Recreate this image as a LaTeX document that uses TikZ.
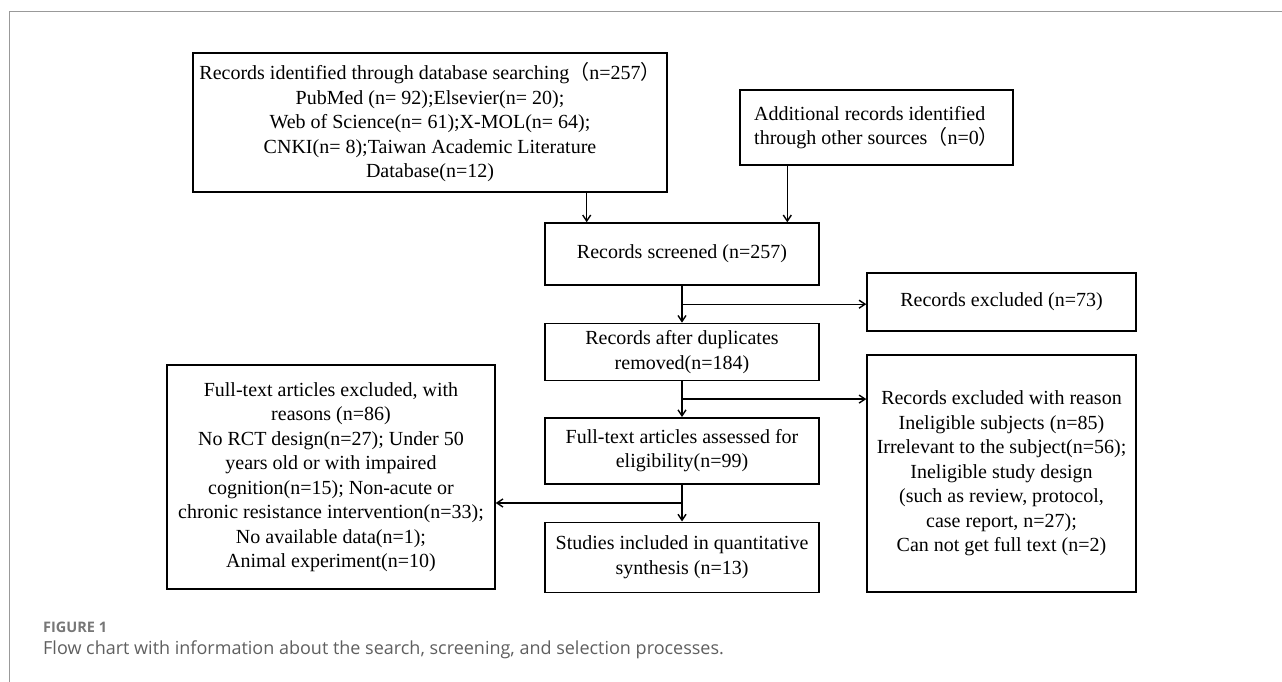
\documentclass[tikz,border=0pt]{standalone}
\usepackage{fontspec}
\setmainfont{Liberation Serif}
\newfontfamily\capfont{Open Sans}
\newfontfamily\cjk{Noto Sans CJK SC}
\usepackage{xcolor}
\usepackage{tikz}
\usetikzlibrary{arrows.meta,positioning,calc}

\definecolor{capgray}{HTML}{5F5F5F}

\begin{document}
\begin{tikzpicture}[
    x=1pt, y=-1pt,
    node distance=37pt,
    box/.style={rectangle, draw, line width=1.4pt, inner sep=0pt, align=center,
        font=\fontsize{20}{24.5}\selectfont},
    midbox/.style={box, minimum width=274pt},
    arrow/.style={-{Straight Barb[length=6pt,width=8pt]}, line width=1.4pt}
]
    \useasboundingbox (0,0) rectangle (1282,682);
    \draw[gray!80, line width=1pt] (9,682) -- (9,12) -- (1282,12);

    \node[box, minimum width=474pt, minimum height=139pt] (db) at (430,122.5)
        {Records identified through database searching{\cjk （}n=257{\cjk ）}\\
         PubMed (n= 92);Elsevier(n= 20);\\
         Web of Science(n= 61);X-MOL(n= 64);\\
         CNKI(n= 8);Taiwan Academic Literature\\
         Database(n=12)};
    \node[box, align=left, minimum width=273pt, minimum height=75pt] (other) at (876.5,127.5)
        {Additional records identified\\
         through other sources{\cjk （}n=0{\cjk ）}};

    \node[midbox, minimum height=62pt] (screened) at (682,254) {Records screened (n=257)};
    \node[midbox, minimum height=57pt, below=37pt of screened] (dup)
        {Records after duplicates\\ removed(n=184)};
    \node[midbox, minimum height=66pt, below=36pt of dup] (fulltext)
        {Full-text articles assessed for\\ eligibility(n=99)};
    \node[midbox, minimum height=70pt, below=37pt of fulltext] (studies)
        {Studies included in quantitative\\ synthesis (n=13)};

    \node[box, minimum width=269pt, minimum height=58pt] (excl) at (1001.5,302)
        {Records excluded (n=73)};
    \node[box, minimum width=269pt, minimum height=237pt] (reason) at (1001.5,473.5)
        {Records excluded with reason\\
         Ineligible subjects (n=85)\\
         Irrelevant to the subject(n=56);\\
         Ineligible study design\\
         (such as review, protocol,\\
         case report, n=27);\\
         Can not get full text (n=2)};
    \node[box, minimum width=328pt, minimum height=224pt] (ftexcl) at (331,477)
        {Full-text articles excluded, with\\
         reasons (n=86)\\
         No RCT design(n=27); Under 50\\
         years old or with impaired\\
         cognition(n=15); Non-acute or\\
         chronic resistance intervention(n=33);\\
         No available data(n=1);\\
         Animal experiment(n=10)};

    % inputs to screening
    \draw[arrow] ([xshift=-81pt]db.south east) -- ([xshift=-81pt]db.south east |- screened.north);
    \draw[arrow] ([xshift=48pt]other.south west) -- ([xshift=48pt]other.south west |- screened.north);

    % main column
    \draw[arrow] (screened) -- (dup);
    \draw[arrow] (dup) -- (fulltext);
    \draw[arrow] (fulltext) -- (studies);

    % side branches
    \coordinate (b1) at ($(screened.south)!0.5!(dup.north)$);
    \coordinate (b2) at ($(dup.south)!0.5!(fulltext.north)$);
    \coordinate (b3) at ($(fulltext.south)!0.5!(studies.north)$);
    \draw[arrow] (b1) -- (b1 -| excl.west);
    \draw[arrow] (b2) -- (b2 -| reason.west);
    \draw[arrow] (b3) -- (b3 -| ftexcl.east);

    \node[anchor=west, inner sep=0pt, text=capgray!85, font=\capfont\bfseries\fontsize{14.5}{16}\selectfont] (fig) at (43,627) {FIGURE 1};
    \node[anchor=west, inner sep=0pt, text=capgray, font=\capfont\fontsize{18}{20}\selectfont] (cap) at (43,650)
        {Flow chart with information about the search, screening, and selection processes.};
\end{tikzpicture}
\end{document}
